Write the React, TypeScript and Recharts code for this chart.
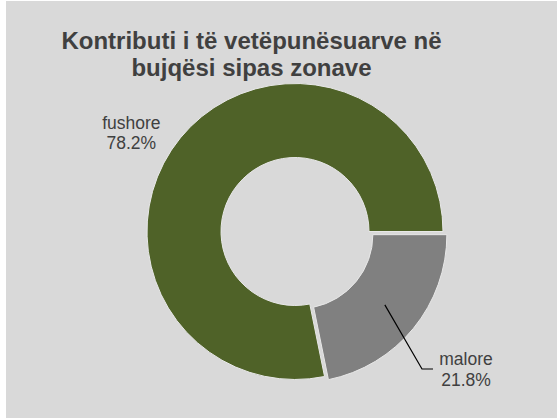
import React from 'react';
import { PieChart, Pie, Cell } from 'recharts';

const zones = ['fushore', 'malore'];
const shares = [78.2, 21.8];
const sliceColors = ['#4F6228', '#808080'];
const titleLines = ['Kontributi i të vetëpunësuarve në', 'bujqësi sipas zonave'];

const data = zones.map((name, i) => ({ name, value: shares[i] }));
const total = shares.reduce((a, b) => a + b, 0);

const W = 557;
const H = 418;
const CX = 295;
const CY = 231.5;
const OUTER = 148;
const INNER = 74;
const EXPLODE = 5;
const RAD = Math.PI / 180;

// first slice ends at 3 o'clock, going clockwise
const START = (360 * shares[0]) / total;
const END = START - 360;

// malore is pulled out along its bisector
const explodeDeg = (360 * shares[1]) / total / 2;
const CX2 = CX + EXPLODE * Math.cos(explodeDeg * RAD);
const CY2 = CY + EXPLODE * Math.sin(explodeDeg * RAD);

// text position relative to the outer edge at the slice mid angle
const labelPlacement: Record<string, { dx: number; dy: number; leader?: boolean }> = {
  fushore: { dx: -49, dy: -9 },
  malore: { dx: 52.5, dy: 37, leader: true },
};

const renderLabel = (only: string) => (props: any) => {
  const { cx, cy, midAngle, innerRadius, outerRadius, name, value } = props;
  if (name !== only) return null;
  const place = labelPlacement[name];
  const cos = Math.cos(-midAngle * RAD);
  const sin = Math.sin(-midAngle * RAD);
  const ox = cx + outerRadius * cos;
  const oy = cy + outerRadius * sin;
  const tx = ox + place.dx;
  const ty = oy + place.dy;
  const rMid = (innerRadius + outerRadius) / 2;
  let leader = null;
  if (place.leader) {
    const sx = cx + rMid * cos;
    const sy = cy + rMid * sin;
    const ex = ox + 8.5;
    const ey = oy + 40.7;
    leader = (
      <polyline
        points={`${sx},${sy} ${ex},${ey} ${ex + 11},${ey}`}
        fill="none"
        stroke="#000"
        strokeWidth={1.2}
      />
    );
  }
  return (
    <g>
      {leader}
      <text
        x={tx}
        y={ty}
        textAnchor="middle"
        fill="#404040"
        fontSize={17.5}
        fontFamily="'Liberation Sans', Arial, sans-serif"
      >
        <tspan x={tx}>{name}</tspan>
        <tspan x={tx} dy={20.5}>{`${value.toFixed(1)}%`}</tspan>
      </text>
    </g>
  );
};

export default function App() {
  return (
    <div style={{ position: 'absolute', left: 0, top: 0, width: W, height: H }}>
      <div
        style={{
          position: 'absolute',
          left: 6,
          top: 1,
          width: W - 6,
          height: H - 1,
          background: '#D9D9D9',
        }}
      />
      <div
        style={{
          position: 'absolute',
          left: 0,
          top: 27,
          width: 503,
          textAlign: 'center',
          fontFamily: "'Liberation Sans', Arial, sans-serif",
          fontWeight: 'bold',
          fontSize: 24,
          lineHeight: '27px',
          color: '#404040',
        }}
      >
        {titleLines.map((t) => (
          <div key={t}>{t}</div>
        ))}
      </div>
      <div style={{ position: 'absolute', left: 0, top: 0 }}>
        <PieChart width={W} height={H} margin={{ top: 0, right: 0, bottom: 0, left: 0 }}>
          <Pie
            data={data}
            dataKey="value"
            nameKey="name"
            cx={CX}
            cy={CY}
            innerRadius={INNER}
            outerRadius={OUTER}
            startAngle={START}
            endAngle={END}
            stroke="#E8E8E8"
            strokeWidth={1}
            labelLine={false}
            label={renderLabel('fushore')}
            isAnimationActive={false}
          >
            {data.map((d, i) => (
              <Cell
                key={d.name}
                fill={i === 0 ? sliceColors[i] : 'transparent'}
                stroke={i === 0 ? '#E8E8E8' : 'none'}
              />
            ))}
          </Pie>
          <Pie
            data={data}
            dataKey="value"
            nameKey="name"
            cx={CX2}
            cy={CY2}
            innerRadius={INNER}
            outerRadius={OUTER}
            startAngle={START}
            endAngle={END}
            stroke="#E8E8E8"
            strokeWidth={1}
            labelLine={false}
            label={renderLabel('malore')}
            isAnimationActive={false}
          >
            {data.map((d, i) => (
              <Cell
                key={d.name}
                fill={i === 1 ? sliceColors[i] : 'transparent'}
                stroke={i === 1 ? '#E8E8E8' : 'none'}
              />
            ))}
          </Pie>
        </PieChart>
      </div>
    </div>
  );
}
